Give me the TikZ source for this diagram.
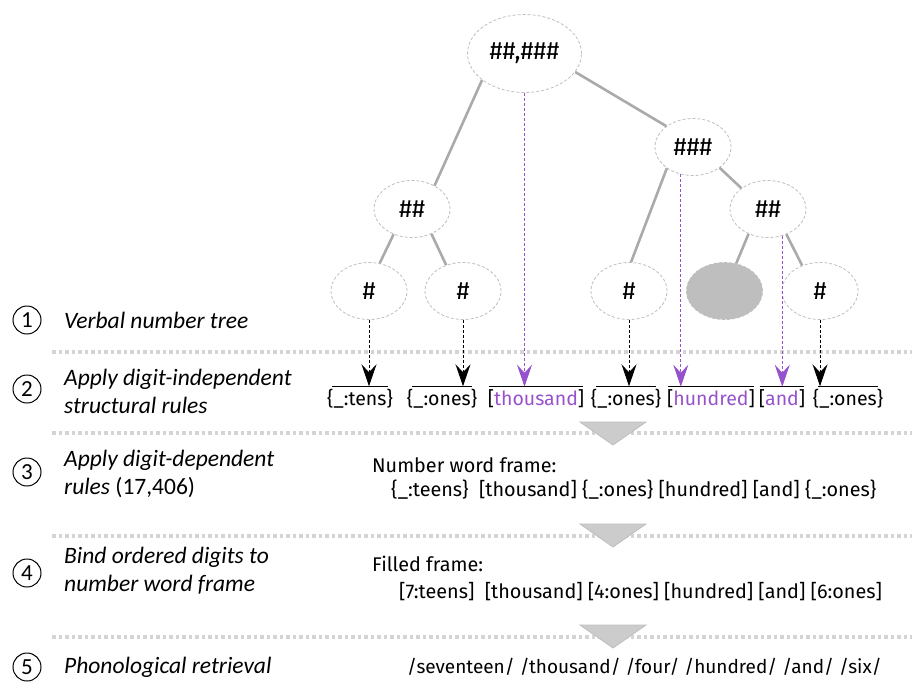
\documentclass[tikz,border=0pt]{standalone}
\usepackage{fontspec}
\setmainfont{Carlito}
\newfontfamily\framefont{Fira Sans}
\usepackage{tikz}
\usetikzlibrary{
	arrows.meta,
	shapes.geometric
}
\definecolor{BranchGray}{RGB}{170,170,170}
\definecolor{RimGray}{RGB}{190,190,190}
\definecolor{SepGray}{RGB}{212,212,212}
\definecolor{FlowGray}{RGB}{204,204,204}
\definecolor{WordViolet}{RGB}{150,82,204}

\begin{document}
\begin{tikzpicture}[x=1pt, y=-1pt,
		digit/.style={ellipse, draw=RimGray, dash pattern=on 3pt off 2pt, line width=0.8pt,
			minimum width=76pt, minimum height=57pt, inner sep=0pt,
			font=\framefont\fontsize{25}{25}\selectfont},
		branch/.style={BranchGray, line width=2.6pt},
		digitarrow/.style={-{Stealth[length=22pt, width=15pt, inset=8pt]}, dash pattern=on 3pt off 2pt, line width=1pt},
		wordarrow/.style={-{Stealth[length=22pt, width=15pt, inset=8pt]}, WordViolet, dash pattern=on 3pt off 2pt, line width=0.9pt},
		slotword/.style={font=\framefont\fontsize{19.5}{19.5}\selectfont, inner xsep=0pt, inner ysep=3pt},
		overbar/.style={line width=1.2pt},
		frametext/.style={font=\framefont\fontsize{19.8}{19.8}\selectfont, inner sep=0pt},
		stepmark/.style={circle, draw, line width=1pt, minimum size=28pt, inner sep=0pt, font=\fontsize{23}{23}\selectfont},
		steptext/.style={font=\itshape\fontsize{23.5}{28}\selectfont, align=left, inner sep=0pt, anchor=west},
		sepline/.style={SepGray, line width=3.5pt, dash pattern=on 3.5pt off 3pt}
	]
	\useasboundingbox (0,0) rectangle (912,681);

	% separators and flow marks
	\foreach \y in {352,433,536,637}
		\draw[sepline] (52,\y) -- (912,\y);
	\foreach \y in {422,524,625}
		\filldraw[fill=FlowGray, draw=RimGray, line width=0.8pt] (580,\y) -- (646,\y) -- (613,\y+23) -- cycle;

	% verbal number tree
	\node[digit, minimum width=114pt, minimum height=78pt] (root) at (524.5,53.5) {\#\#,\#\#\#};
	\node[digit] (hund) at (693,147) {\#\#\#};
	\node[digit] (tensL) at (412,209) {\#\#};
	\node[digit] (tensR) at (768,209) {\#\#};
	\node[digit] (d1) at (369,291) {\#};
	\node[digit] (d2) at (463,291) {\#};
	\node[digit] (d3) at (629,291) {\#};
	\node[digit, fill=RimGray] (d4) at (724.5,291) {};
	\node[digit] (d5) at (820,291) {\#};

	\draw[branch] (root.212) -- (tensL.46);
	\draw[branch] (root.340) -- (hund.142);
	\draw[branch] (tensL.234) -- (d1.69);
	\draw[branch] (tensL.308) -- (d2.123);
	\draw[branch] (hund.219) -- (d3.86);
	\draw[branch] (hund.322) -- (tensR.142);
	\draw[branch] (tensR.232) -- (d4.67);
	\draw[branch] (tensR.306) -- (d5.125);

	% structural slots
	\node[slotword] (w1) at (360,399) {\{\_:tens\}};
	\node[slotword] (w2) at (442,399) {\{\_:ones\}};
	\node[slotword] (w3) at (536,399) {[\textcolor{WordViolet}{thousand}]};
	\node[slotword] (w4) at (626,399) {\{\_:ones\}};
	\node[slotword] (w5) at (711,399) {[\textcolor{WordViolet}{hundred}]};
	\node[slotword] (w6) at (782,399) {[\textcolor{WordViolet}{and}]};
	\node[slotword] (w7) at (848,399) {\{\_:ones\}};

	\draw[overbar] ([xshift=5pt]w1.north west) -- ([xshift=-5pt]w1.north east);
	\draw[overbar] ([xshift=5pt]w2.north west) -- ([xshift=-5pt]w2.north east);
	\draw[overbar] ([xshift=1pt]w3.north west) -- ([xshift=-1pt]w3.north east);
	\draw[overbar] ([xshift=5pt]w4.north west) -- ([xshift=-5pt]w4.north east);
	\draw[overbar] ([xshift=1pt]w5.north west) -- ([xshift=-1pt]w5.north east);
	\draw[overbar] ([xshift=1pt]w6.north west) -- ([xshift=-1pt]w6.north east);
	\draw[overbar] ([xshift=5pt]w7.north west) -- ([xshift=-5pt]w7.north east);

	\draw[digitarrow] (d1.south) -- (d1.south |- w1.north);
	\draw[digitarrow] (d2.south) -- (d2.south |- w2.north);
	\draw[digitarrow] (d3.south) -- (d3.south |- w4.north);
	\draw[digitarrow] (d5.south) -- (d5.south |- w7.north);
	\draw[wordarrow] (root.south) -- (root.south |- w3.north);
	\draw[wordarrow] (hund.246) -- (hund.246 |- w5.north);
	\draw[wordarrow] (tensR.298) -- (tensR.298 |- w6.north);

	% frames
	\node[frametext, anchor=west] (nwf) at (372,465) {Number word frame:};
	\node[frametext, anchor=west] (nwfrow) at (391,490) {\{\_:teens\}\ \ [thousand] \{\_:ones\} [hundred] [and] \{\_:ones\}};
	\node[frametext, anchor=west] (ff) at (372,564) {Filled frame:};
	\node[frametext, anchor=west] (ffrow) at (399,592) {[7:teens]\ \ [thousand] [4:ones] [hundred] [and] [6:ones]};

	% phonological forms
	\node[frametext, anchor=west, font=\framefont\fontsize{19}{19}\selectfont] (phon) at (407,667) {/seventeen/ /thousand/ /four/ /hundred/ /and/ /six/};

	% steps
	\node[stepmark] (s1) at (27,320) {1};
	\node[stepmark] (s2) at (27,389) {2};
	\node[stepmark] (s3) at (27,472) {3};
	\node[stepmark] (s4) at (27,573) {4};
	\node[stepmark] (s5) at (27,667) {5};
	\node[steptext] (t1) at (64,320) {Verbal number tree};
	\node[steptext] (t2) at (64,391) {Apply digit-independent\\structural rules};
	\node[steptext] (t3) at (64,474) {Apply digit-dependent\\rules \textup{(17,406)}};
	\node[steptext] (t4) at (64,571) {Bind ordered digits to\\number word frame};
	\node[steptext] (t5) at (64,667) {Phonological retrieval};
\end{tikzpicture}
\end{document}
